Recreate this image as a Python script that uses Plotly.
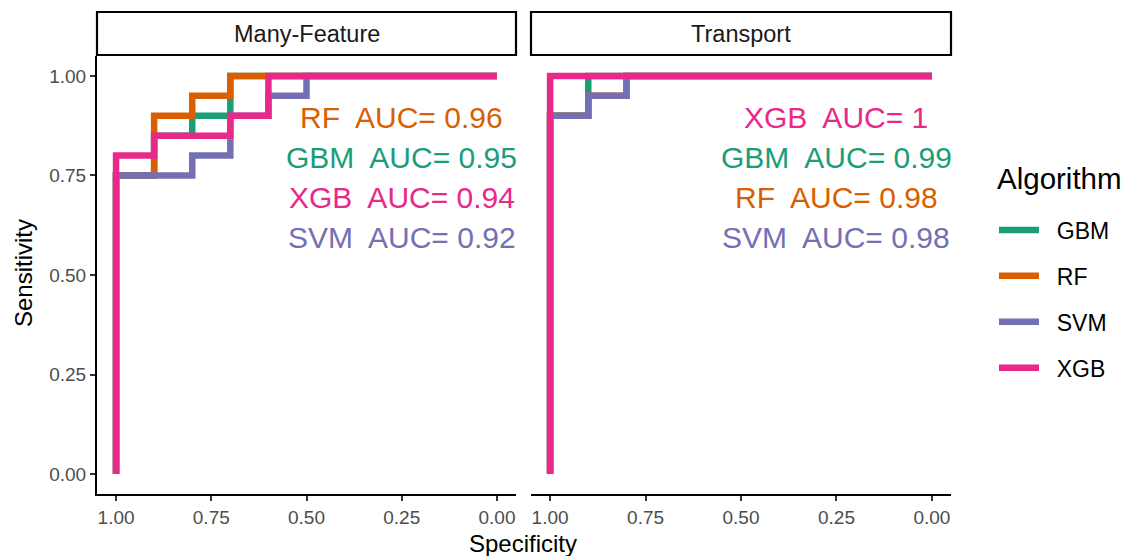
import plotly.graph_objects as go

W, H = 1124, 556

algorithms = ["GBM", "RF", "SVM", "XGB"]
colors = ["#1B9E77", "#D95F02", "#7570B3", "#E7298A"]
panels = ["Many-Feature", "Transport"]

# ROC step points (specificity, sensitivity) - Many-Feature panel
mf_gbm_spec = [1.0, 1.0, 0.9, 0.9, 0.8, 0.8, 0.7, 0.7, 0.0]
mf_gbm_sens = [0.0, 0.75, 0.75, 0.85, 0.85, 0.9, 0.9, 1.0, 1.0]
mf_rf_spec = [1.0, 1.0, 0.9, 0.9, 0.8, 0.8, 0.7, 0.7, 0.0]
mf_rf_sens = [0.0, 0.75, 0.75, 0.9, 0.9, 0.95, 0.95, 1.0, 1.0]
mf_svm_spec = [1.0, 1.0, 0.8, 0.8, 0.7, 0.7, 0.6, 0.6, 0.5, 0.5, 0.0]
mf_svm_sens = [0.0, 0.75, 0.75, 0.8, 0.8, 0.9, 0.9, 0.95, 0.95, 1.0, 1.0]
mf_xgb_spec = [1.0, 1.0, 0.9, 0.9, 0.7, 0.7, 0.6, 0.6, 0.0]
mf_xgb_sens = [0.0, 0.8, 0.8, 0.85, 0.85, 0.9, 0.9, 1.0, 1.0]

# Transport panel
tr_gbm_spec = [1.0, 1.0, 0.9, 0.9, 0.0]
tr_gbm_sens = [0.0, 0.9, 0.9, 1.0, 1.0]
tr_rf_spec = [1.0, 1.0, 0.9, 0.9, 0.8, 0.8, 0.0]
tr_rf_sens = [0.0, 0.9, 0.9, 0.95, 0.95, 1.0, 1.0]
tr_svm_spec = [1.0, 1.0, 0.9, 0.9, 0.8, 0.8, 0.0]
tr_svm_sens = [0.0, 0.9, 0.9, 0.95, 0.95, 1.0, 1.0]
tr_xgb_spec = [1.0, 1.0, 0.0]
tr_xgb_sens = [0.0, 1.0, 1.0]

# AUC labels (order as shown in each panel)
mf_auc_algs = ["RF", "GBM", "XGB", "SVM"]
mf_auc_vals = ["0.96", "0.95", "0.94", "0.92"]
tr_auc_algs = ["XGB", "GBM", "RF", "SVM"]
tr_auc_vals = ["1", "0.99", "0.98", "0.98"]

tick_vals = [0.0, 0.25, 0.5, 0.75, 1.0]
tick_text = ["0.00", "0.25", "0.50", "0.75", "1.00"]

curves = {
    "Many-Feature": [(mf_gbm_spec, mf_gbm_sens), (mf_rf_spec, mf_rf_sens),
                     (mf_svm_spec, mf_svm_sens), (mf_xgb_spec, mf_xgb_sens)],
    "Transport": [(tr_gbm_spec, tr_gbm_sens), (tr_rf_spec, tr_rf_sens),
                  (tr_svm_spec, tr_svm_sens), (tr_xgb_spec, tr_xgb_sens)],
}

FONT = "Arial, Liberation Sans, sans-serif"
col_of = dict(zip(algorithms, colors))
LW = 6.5

fig = go.Figure()
for pi, panel in enumerate(panels):
    xa = "x" if pi == 0 else "x2"
    ya = "y" if pi == 0 else "y2"
    for ai, alg in enumerate(algorithms):
        sx, sy = curves[panel][ai]
        fig.add_trace(go.Scatter(
            x=sx, y=sy, mode="lines", name="\u00a0\u00a0" + alg,
            line=dict(color=colors[ai], width=LW),
            xaxis=xa, yaxis=ya, showlegend=(pi == 0),
            legendgroup=alg,
        ))

# AUC text
for pi, (algs, vals) in enumerate([(mf_auc_algs, mf_auc_vals), (tr_auc_algs, tr_auc_vals)]):
    for k, (a, v) in enumerate(zip(algs, vals)):
        fig.add_annotation(
            x=0.25, y=0.9 - 0.1 * k,
            xref="x" if pi == 0 else "x2", yref="y" if pi == 0 else "y2",
            text=f"{a}\u00a0 AUC= {v}", showarrow=False, yshift=-2,
            font=dict(family=FONT, size=30, color=col_of[a]),
            xanchor="center", yanchor="middle",
        )


def px_x(p):
    return p / W


def px_y(p):
    return 1 - p / H


dom1 = [px_x(97), px_x(516)]
dom2 = [px_x(531), px_x(951)]
ydom = [px_y(494), px_y(56)]

axis_common = dict(
    range=[1.05, -0.05], tickvals=tick_vals, ticktext=tick_text,
    showgrid=False, zeroline=False, showline=True, linecolor="black", linewidth=2,
    ticks="outside", ticklen=5, tickwidth=1.5, tickcolor="#333333",
    tickfont=dict(family=FONT, size=19, color="#4D4D4D"),
)
fig.update_layout(
    xaxis=dict(domain=dom1, anchor="y", **axis_common),
    xaxis2=dict(domain=dom2, anchor="y2", **axis_common),
    yaxis=dict(domain=ydom, anchor="x", range=[-0.05, 1.05], tickvals=tick_vals,
               ticktext=tick_text, showgrid=False, zeroline=False, showline=True,
               linecolor="black", linewidth=2, ticks="outside", ticklen=5,
               tickwidth=1.5, tickcolor="#333333",
               tickfont=dict(family=FONT, size=19, color="#4D4D4D")),
    yaxis2=dict(domain=ydom, anchor="x2", range=[-0.05, 1.05], showgrid=False,
                zeroline=False, showline=False, showticklabels=False, ticks=""),
    width=W, height=H, margin=dict(l=0, r=0, t=0, b=0),
    plot_bgcolor="white", paper_bgcolor="white",
    legend=dict(
        font=dict(family=FONT, size=23, color="black"),
        x=px_x(994), y=px_y(208.5), xanchor="left", yanchor="top",
        tracegroupgap=13, itemwidth=40, bgcolor="rgba(0,0,0,0)",
    ),
)

# legend title
fig.add_annotation(x=px_x(995), y=px_y(178), xref="paper", yref="paper",
                   text="Algorithm", showarrow=False,
                   font=dict(family=FONT, size=29.5, color="black"),
                   xanchor="left", yanchor="middle")

# strips
for pi, (panel, dom) in enumerate(zip(panels, [dom1, dom2])):
    fig.add_shape(type="rect", xref="paper", yref="paper",
                  x0=dom[0], x1=dom[1], y0=px_y(55), y1=px_y(12),
                  line=dict(color="black", width=2.2), fillcolor="white")
    fig.add_annotation(x=(dom[0] + dom[1]) / 2, y=px_y(34), xref="paper", yref="paper",
                       text=panel, showarrow=False,
                       font=dict(family=FONT, size=23.5, color="#1A1A1A"),
                       xanchor="center", yanchor="middle")

# axis titles
fig.add_annotation(x=px_x(523), y=px_y(543), xref="paper", yref="paper",
                   text="Specificity", showarrow=False,
                   font=dict(family=FONT, size=24, color="black"),
                   xanchor="center", yanchor="middle")
fig.add_annotation(x=px_x(23), y=px_y(273), xref="paper", yref="paper",
                   text="Sensitivity", showarrow=False, textangle=-90,
                   font=dict(family=FONT, size=24, color="black"),
                   xanchor="center", yanchor="middle")

fig.write_html(
    "out.html",
    config={"displayModeBar": False},
    post_script="document.body.style.margin='0px';document.body.style.overflow='hidden';",
)
